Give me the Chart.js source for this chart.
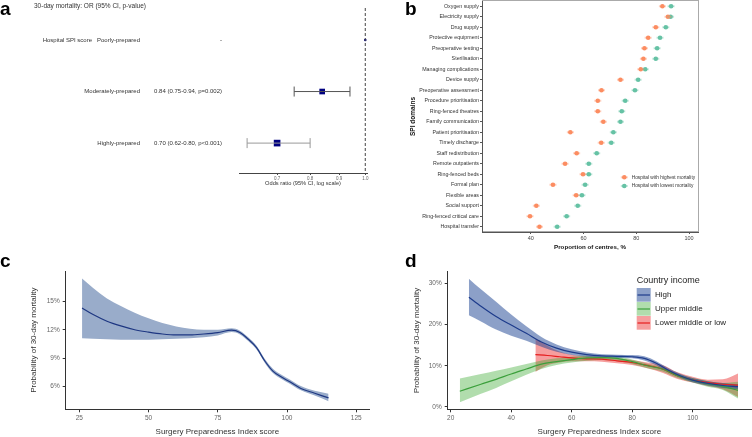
<!DOCTYPE html>
<html>
<head>
<meta charset="utf-8">
<script src="https://cdn.jsdelivr.net/npm/chart.js@4.4.1/dist/chart.umd.min.js"></script>
<style>
body{margin:0;background:#fff;width:752px;height:437px;overflow:hidden;position:relative;font-family:"Liberation Sans",Arial,sans-serif}
canvas{position:absolute}
.lab{position:absolute;font-weight:bold;font-size:19px;line-height:19px;color:#000}
</style>
</head>
<body>
<canvas id="ca" width="380" height="200" style="left:0;top:0"></canvas>
<canvas id="cb" width="372" height="260" style="left:380px;top:0"></canvas>
<canvas id="cc" width="380" height="237" style="left:0;top:200px"></canvas>
<canvas id="cd" width="372" height="237" style="left:380px;top:200px"></canvas>
<div class="lab" style="left:0;top:-1px">a</div>
<div class="lab" style="left:405px;top:-1px">b</div>
<div class="lab" style="left:0;top:251px">c</div>
<div class="lab" style="left:405px;top:251px">d</div>
<script>
// ---- panel a: odds ratios
const forestTitle = '30-day mortality: OR (95% CI, p-value)';
const gradeLabels = ['Poorly-prepared', 'Moderately-prepared', 'Highly-prepared'];
const orEstimate = [1.0, 0.84, 0.70];
const orLower = [null, 0.75, 0.62];
const orUpper = [null, 0.94, 0.80];
const orText = ['-', '0.84 (0.75-0.94, p=0.002)', '0.70 (0.62-0.80, p<0.001)'];
const orTicks = [0.7, 0.8, 0.9, 1.0];

// ---- panel b: SPI domains
const domains = ['Oxygen supply', 'Electricity supply', 'Drug supply', 'Protective equipment',
  'Preoperative testing', 'Sterilisation', 'Managing complications', 'Device supply',
  'Preoperative assessment', 'Procedure prioritisation', 'Ring-fenced theatres',
  'Family communication', 'Patient prioritisation', 'Timely discharge', 'Staff redistribution',
  'Remote outpatients', 'Ring-fenced beds', 'Formal plan', 'Flexible areas', 'Social support',
  'Ring-fenced critical care', 'Hospital transfer'];
const highestMortality = [89.9, 92.0, 87.4, 84.5, 83.1, 82.7, 81.7, 74.0, 66.8, 65.4, 65.4,
  67.5, 55.0, 66.7, 57.4, 53.0, 59.8, 48.4, 57.2, 42.1, 39.7, 43.3];
const lowestMortality = [93.2, 93.0, 91.2, 89.0, 87.9, 87.4, 83.4, 80.7, 79.5, 75.8, 74.5,
  74.0, 71.3, 70.5, 65.0, 62.0, 62.0, 60.6, 59.4, 57.8, 53.6, 50.0];
const mortalityGroups = ['Hospital with highest mortality', 'Hospital with lowest mortality'];
const propTicks = [40, 60, 80, 100];

// ---- panel c: overall curve
const spiC = [26, 30, 35, 40, 45, 50, 55, 60, 65, 70, 75, 80, 83, 86, 89, 92, 95, 98, 101, 105, 110, 115];
const meanC = [14.3, 13.6, 12.9, 12.4, 12.0, 11.75, 11.55, 11.45, 11.45, 11.55, 11.7, 11.95, 11.7, 11.0, 10.1, 8.7, 7.6, 7.0, 6.5, 5.8, 5.3, 4.8];
const upperC = [17.4, 16.4, 15.3, 14.5, 13.8, 13.2, 12.7, 12.35, 12.1, 12.0, 12.0, 12.15, 11.9, 11.2, 10.3, 8.9, 7.85, 7.25, 6.75, 6.05, 5.55, 5.25];
const lowerC = [11.1, 11.05, 11.0, 10.95, 10.95, 10.95, 11.0, 11.05, 11.1, 11.2, 11.4, 11.75, 11.5, 10.8, 9.9, 8.5, 7.4, 6.8, 6.3, 5.6, 5.05, 4.45];
const cTicksX = [25, 50, 75, 100, 125];
const cTicksY = [6, 9, 12, 15];

// ---- panel d: by country income
const incomeGroups = ['High', 'Upper middle', 'Lower middle or low'];
const spiHigh = [26, 30, 35, 40, 45, 50, 55, 60, 65, 70, 75, 80, 84, 88, 92, 96, 100, 105, 110, 115];
const meanHigh = [26.7, 24.5, 22.0, 19.9, 17.9, 15.8, 14.3, 13.3, 12.7, 12.4, 12.3, 12.2, 11.8, 10.6, 8.9, 7.5, 6.5, 5.7, 5.2, 4.9];
const upperHigh = [31.2, 28.6, 25.6, 22.5, 19.6, 17.0, 15.2, 14.0, 13.2, 12.8, 12.7, 12.6, 12.3, 11.1, 9.4, 8.0, 7.0, 6.2, 5.8, 5.5];
const lowerHigh = [22.3, 20.8, 18.8, 17.3, 16.1, 14.6, 13.4, 12.6, 12.2, 12.0, 11.9, 11.8, 11.3, 10.1, 8.4, 7.0, 6.0, 5.2, 4.6, 4.3];
const spiUpper = [23, 30, 35, 40, 45, 50, 55, 60, 65, 70, 75, 80, 85, 90, 95, 100, 105, 110, 115];
const meanUpper = [3.8, 5.5, 6.7, 8.0, 9.2, 10.4, 11.0, 11.5, 11.9, 12.0, 11.8, 11.0, 10.0, 9.2, 7.6, 6.5, 5.6, 5.0, 4.0];
const upperUpper = [6.9, 8.0, 8.8, 9.6, 10.4, 11.3, 11.8, 12.2, 12.5, 12.5, 12.3, 11.5, 10.5, 9.7, 8.1, 7.0, 6.3, 5.8, 6.1];
const lowerUpper = [1.1, 3.2, 4.6, 6.2, 7.8, 9.2, 10.2, 10.8, 11.2, 11.4, 11.2, 10.4, 9.4, 8.6, 7.0, 5.9, 4.9, 4.1, 2.0];
const spiLower = [48, 52, 56, 60, 65, 70, 75, 80, 85, 90, 95, 100, 105, 110, 115];
const meanLower = [12.7, 12.5, 12.2, 11.9, 11.7, 11.6, 11.2, 10.8, 10.1, 9.2, 7.6, 6.6, 5.9, 5.5, 5.3];
const upperLower = [16.7, 14.9, 13.5, 12.7, 12.3, 12.2, 11.8, 11.4, 10.8, 10.2, 8.4, 7.3, 6.6, 6.7, 8.1];
const lowerLower = [8.5, 10.1, 10.8, 11.1, 11.1, 11.0, 10.6, 10.2, 9.4, 8.3, 6.8, 5.9, 5.1, 4.3, 2.4];
const dTicksX = [20, 40, 60, 80, 100];
const dTicksY = [0, 10, 20, 30];

const FONT = '"Liberation Sans", Arial, Helvetica, sans-serif';
Chart.defaults.font.family = FONT;
Chart.defaults.animation = false;
Chart.defaults.layout.autoPadding = false;
Chart.defaults.plugins.legend.display = false;
Chart.defaults.plugins.tooltip.enabled = false;

function setTicks(list) {
  return s => { s.ticks = list.map(v => ({value: v})); };
}
function pts(xs, ys) {
  return xs.map((x, i) => ({x: x, y: ys[i]}));
}
// fixed axis thickness, no extra label overflow padding
function fixW(w) {
  return s => { s.width = w; s.paddingTop = 0; s.paddingBottom = 0; };
}
function fixH(h) {
  return s => { s.height = h; s.paddingLeft = 0; s.paddingRight = 0; };
}

// ================= a =================
const forestText = {
  id: 'forestText',
  afterDraw(chart) {
    const ctx = chart.ctx, y = chart.scales.y;
    ctx.save();
    ctx.fillStyle = '#333';
    ctx.textBaseline = 'middle';
    ctx.font = '6.5px ' + FONT;
    ctx.textAlign = 'left';
    ctx.fillText(forestTitle, 34, 6);
    ctx.font = '6px ' + FONT;
    ctx.textAlign = 'right';
    ctx.fillText('Hospital SPI score', 92, y.getPixelForValue(0));
    gradeLabels.forEach((g, i) => {
      const py = y.getPixelForValue(i);
      ctx.fillText(g, 140, py);
      ctx.fillText(orText[i], 222, py);
    });
    ctx.restore();
  }
};

const aSets = [{
  data: [{x: 1, y: -0.62}, {x: 1, y: 2.58}],
  showLine: true, borderColor: '#444', borderWidth: 1, borderDash: [3, 2], pointRadius: 0
}];
orLower.forEach((lo, i) => {
  if (lo === null) return;
  aSets.push({
    data: [{x: lo, y: i}, {x: orUpper[i], y: i}],
    showLine: true, borderColor: i === 1 ? '#555' : '#999', borderWidth: 1,
    pointStyle: 'line', rotation: 90, pointRadius: 5, pointBorderWidth: 1
  });
});
aSets.push({
  data: orEstimate.map((v, i) => ({x: v, y: i})),
  pointStyle: ['circle', 'rect', 'rect'], pointRadius: [1.3, 4, 4.7],
  backgroundColor: '#000080', borderColor: '#000080', borderWidth: 0
});

new Chart(document.getElementById('ca'), {
  type: 'scatter',
  data: {datasets: aSets},
  options: {
    responsive: false,
    layout: {padding: {left: 239, right: 13, top: 8, bottom: 0}},
    scales: {
      x: {
        type: 'logarithmic', min: 0.6, max: 1.007,
        afterBuildTicks: setTicks(orTicks),
        afterFit: fixH(27),
        ticks: {callback: v => Number(v).toFixed(1), font: {size: 4.5}, color: '#666', padding: 1, maxRotation: 0, autoSkip: false},
        grid: {drawOnChartArea: false, tickLength: 2, color: '#444'},
        border: {color: '#444'},
        title: {display: true, text: 'Odds ratio (95% CI, log scale)', font: {size: 5.7}, color: '#333', padding: {top: 0, bottom: 13.6}}
      },
      y: {type: 'linear', display: false, min: -0.62, max: 2.58, reverse: true}
    }
  },
  plugins: [forestText]
});

// ================= b =================
const orange = '#fc8d62', green = '#66c2a5';
const bFrame = {
  id: 'bFrame',
  beforeDraw(chart) {
    const {ctx, chartArea: a} = chart;
    ctx.save();
    ctx.strokeStyle = '#aaa';
    ctx.lineWidth = 1;
    ctx.strokeRect(a.left + 0.5, a.top - 0.5, a.right - a.left, a.bottom - a.top);
    ctx.restore();
  },
  afterDraw(chart) {
    const ctx = chart.ctx;
    const cols = [orange, green];
    ctx.save();
    mortalityGroups.forEach((g, i) => {
      const cx = 244.3, cy = 177.3 + i * 8.7;
      ctx.strokeStyle = i ? 'rgba(102,194,165,0.4)' : 'rgba(252,141,98,0.4)';
      ctx.lineWidth = 2;
      ctx.beginPath(); ctx.moveTo(cx - 3.5, cy); ctx.lineTo(cx + 3.5, cy); ctx.stroke();
      ctx.fillStyle = cols[i];
      ctx.beginPath(); ctx.arc(cx, cy, 2.3, 0, Math.PI * 2); ctx.fill();
      ctx.fillStyle = '#333';
      ctx.font = '4.8px ' + FONT;
      ctx.textBaseline = 'middle';
      ctx.fillText(g, 251.7, cy);
    });
    ctx.restore();
  }
};

function whisker(vals, col) {
  return {data: vals.map((v, i) => ({x: v, y: domains[i]})), pointStyle: 'line', pointRadius: 3.5,
    borderColor: col, pointBorderWidth: 2, backgroundColor: col};
}
function dots(vals, col) {
  return {data: vals.map((v, i) => ({x: v, y: domains[i]})), pointStyle: 'circle', pointRadius: 2.3,
    borderColor: col, backgroundColor: col, pointBorderWidth: 0};
}

new Chart(document.getElementById('cb'), {
  type: 'scatter',
  data: {datasets: [
    whisker(highestMortality, 'rgba(252,141,98,0.4)'),
    whisker(lowestMortality, 'rgba(102,194,165,0.4)'),
    dots(highestMortality, orange),
    dots(lowestMortality, green)
  ]},
  options: {
    responsive: false,
    layout: {padding: {left: 0, right: 54, top: 1, bottom: 0}},
    scales: {
      x: {
        type: 'linear', min: 21.5, max: 103.4,
        afterBuildTicks: setTicks(propTicks),
        afterFit: fixH(28),
        ticks: {font: {size: 5.5}, color: '#444', padding: 1, maxRotation: 0},
        grid: {drawOnChartArea: false, tickLength: 2, color: '#555'},
        border: {color: '#555'},
        title: {display: true, text: 'Proportion of centres, %', font: {size: 6.2, weight: 'bold'}, color: '#111', padding: {top: 0, bottom: 8.6}}
      },
      y: {
        type: 'category', labels: domains, offset: true,
        afterFit: fixW(102),
        ticks: {font: {size: 5.3}, color: '#333', padding: 1, autoSkip: false},
        grid: {drawOnChartArea: false, tickLength: 2, color: '#555'},
        border: {color: '#555'},
        title: {display: true, text: 'SPI domains', font: {size: 6.5, weight: 'bold'}, color: '#111', padding: {top: 29.1, bottom: 0}}
      }
    }
  },
  plugins: [bFrame]
});

// ================= c & d helpers =================
function band(xs, up, lo, fillCol) {
  return [
    {data: pts(xs, up), fill: '+1', backgroundColor: fillCol, borderWidth: 0,
      pointRadius: 0, cubicInterpolationMode: 'monotone', order: 2},
    {data: pts(xs, lo), fill: false, borderWidth: 0, backgroundColor: fillCol,
      pointRadius: 0, cubicInterpolationMode: 'monotone', order: 2}
  ];
}
function curve(xs, ys, col) {
  return {data: pts(xs, ys), fill: false, borderColor: col, borderWidth: 1.2, pointRadius: 0,
    cubicInterpolationMode: 'monotone', order: 1};
}
function axes(xMin, xMax, xTicks, yMin, yMax, yTicks, yWidth, yTitlePad) {
  return {
    x: {
      type: 'linear', min: xMin, max: xMax,
      afterBuildTicks: setTicks(xTicks),
      afterFit: fixH(27.7),
      ticks: {font: {size: 6.5}, color: '#666', padding: 2.5, maxRotation: 0},
      grid: {drawOnChartArea: false, tickLength: 3, color: '#333'},
      border: {color: '#333'},
      title: {display: true, text: 'Surgery Preparedness Index score', font: {size: 8}, color: '#333', padding: {top: 0, bottom: 0.5}}
    },
    y: {
      type: 'linear', min: yMin, max: yMax,
      afterBuildTicks: setTicks(yTicks),
      afterFit: fixW(yWidth),
      ticks: {font: {size: 6.5}, color: '#666', padding: 3, callback: v => v + '%'},
      grid: {drawOnChartArea: false, tickLength: 3, color: '#333'},
      border: {color: '#333'},
      title: {display: true, text: 'Probability of 30-day mortality', font: {size: 8}, color: '#333', padding: {top: yTitlePad, bottom: 0}}
    }
  };
}

// ================= c =================
new Chart(document.getElementById('cc'), {
  type: 'line',
  data: {datasets: [
    ...band(spiC, upperC, lowerC, 'rgb(153,172,202)'),
    curve(spiC, meanC, 'rgb(30,55,130)')
  ]},
  options: {
    responsive: false,
    layout: {padding: {left: 0, right: 11, top: 71, bottom: 0}},
    scales: axes(20.1, 129.6, cTicksX, 3.6, 18.2, cTicksY, 65.7, 29.2)
  }
});

// ================= d =================
const bandCols = ['rgba(25,65,145,0.5)', 'rgba(60,170,50,0.4)', 'rgba(235,40,40,0.45)'];
const lineCols = ['rgb(30,60,140)', 'rgb(60,160,60)', 'rgb(230,30,30)'];
const dLegend = {
  id: 'dLegend',
  afterDraw(chart) {
    const ctx = chart.ctx;
    ctx.save();
    ctx.fillStyle = '#222';
    ctx.textBaseline = 'middle';
    ctx.font = '9px ' + FONT;
    ctx.fillText('Country income', 256.7, 80.7);
    incomeGroups.forEach((g, i) => {
      const top = 88 + i * 14;
      ctx.fillStyle = bandCols[i];
      ctx.fillRect(256.7, top, 14, 13.7);
      ctx.strokeStyle = lineCols[i];
      ctx.lineWidth = 1.2;
      ctx.beginPath(); ctx.moveTo(257.5, top + 7); ctx.lineTo(270, top + 7); ctx.stroke();
      ctx.fillStyle = '#222';
      ctx.font = '8px ' + FONT;
      ctx.fillText(g, 275, top + 7);
    });
    ctx.restore();
  }
};

new Chart(document.getElementById('cd'), {
  type: 'line',
  data: {datasets: [
    ...band(spiHigh, upperHigh, lowerHigh, bandCols[0]),
    ...band(spiUpper, upperUpper, lowerUpper, bandCols[1]),
    ...band(spiLower, upperLower, lowerLower, bandCols[2]),
    curve(spiHigh, meanHigh, lineCols[0]),
    curve(spiUpper, meanUpper, lineCols[1]),
    curve(spiLower, meanLower, lineCols[2])
  ]},
  options: {
    responsive: false,
    layout: {padding: {left: 0, right: 1, top: 71.7, bottom: 0}},
    scales: axes(19, 119.3, dTicksX, -0.6, 32.9, dTicksY, 67.7, 31.9)
  },
  plugins: [dLegend]
});
</script>
</body>
</html>
